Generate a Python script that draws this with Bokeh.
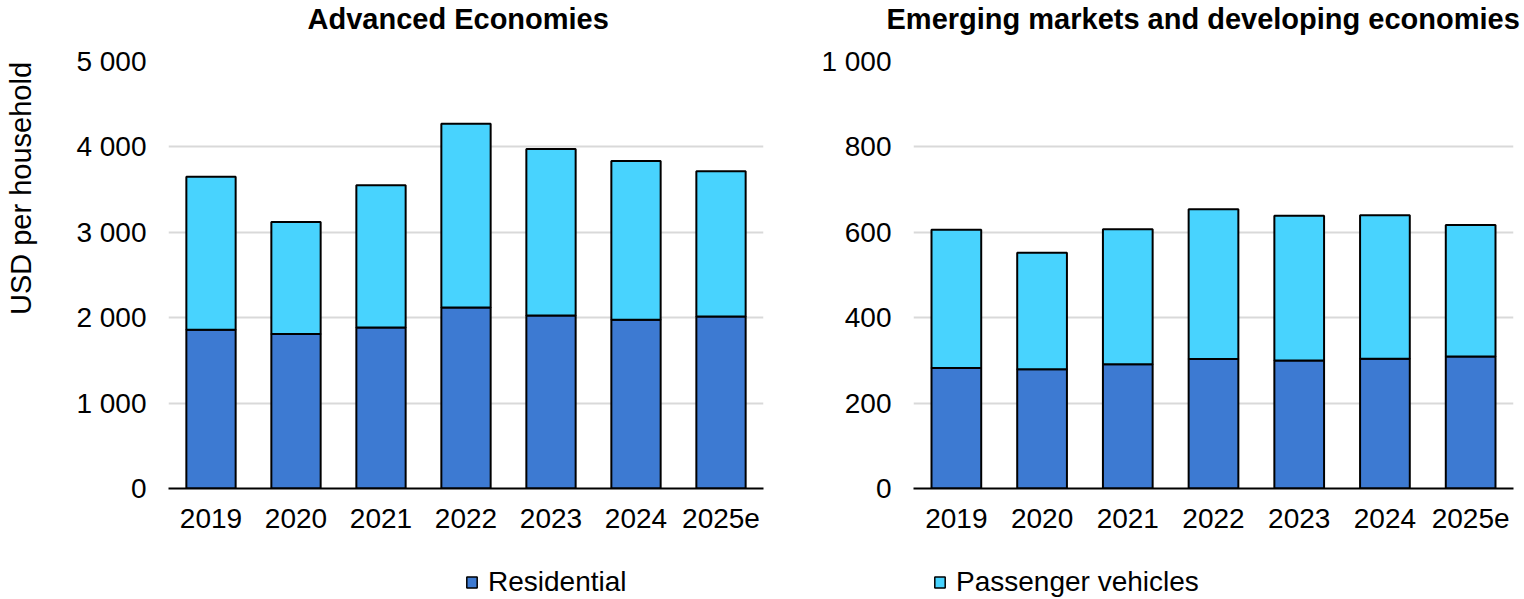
import math
from bokeh.plotting import figure
from bokeh.layouts import row, column
from bokeh.models import (ColumnDataSource, FactorRange, Range1d, FixedTicker, Legend,
                          LegendItem, Label, CustomJSTickFormatter)
from bokeh.embed import file_html
from bokeh.resources import INLINE

years = ["2019", "2020", "2021", "2022", "2023", "2024", "2025e"]
series = ["Residential", "Passenger vehicles"]
colors = ["#3D7AD2", "#48D3FE"]

adv_residential = [1860, 1810, 1885, 2120, 2025, 1975, 2015]
adv_passenger = [1790, 1310, 1665, 2150, 1950, 1860, 1700]
eme_residential = [282, 279, 291, 303, 300, 304, 309]
eme_passenger = [324, 273, 316, 351, 339, 336, 308]

adv_ticks = [0, 1000, 2000, 3000, 4000, 5000]
eme_ticks = [0, 200, 400, 600, 800, 1000]

titles = ["Advanced Economies", "Emerging markets and developing economies"]
y_label = "USD per household"

FONT = "Liberation Sans"
FS = "28px"
W, H = 1524, 599
YL_W = 40
TOP_H, LEG_H = 44, 44
MAIN_H = H - TOP_H - LEG_H

fmt = CustomJSTickFormatter(code="return tick.toString().replace(/\\B(?=(\\d{3})+(?!\\d))/g, ' ');")


def strip(width, height):
    f = figure(width=width, height=height, x_range=Range1d(0, width), y_range=Range1d(0, height),
               output_backend="svg", toolbar_location=None,
               min_border_left=0, min_border_right=0, min_border_top=0, min_border_bottom=0)
    f.axis.visible = False
    f.grid.visible = False
    f.outline_line_color = None
    f.title.visible = False
    return f


def make_panel(res, pas, ticks, width, bl, br):
    src = ColumnDataSource(dict(year=years, Residential=res, **{"Passenger vehicles": pas}))
    p = figure(x_range=FactorRange(*years, range_padding=0), y_range=Range1d(ticks[0], ticks[-1]),
               width=width, height=MAIN_H, output_backend="svg", toolbar_location=None,
               min_border_left=bl, min_border_right=br, min_border_top=17, min_border_bottom=67)
    p.vbar_stack(series, x="year", width=0.58, source=src, color=colors,
                 line_color="black", line_width=2)
    p.title.visible = False
    p.outline_line_color = None
    p.background_fill_color = "white"
    p.xgrid.visible = False
    p.ygrid.grid_line_color = "#D9D9D9"
    p.ygrid.grid_line_width = 2
    p.yaxis.ticker = FixedTicker(ticks=ticks)
    p.yaxis.formatter = fmt
    p.yaxis.axis_line_color = None
    p.yaxis.major_tick_line_color = None
    p.yaxis.minor_tick_line_color = None
    p.yaxis.major_label_standoff = 16
    p.yaxis.major_label_text_font = FONT
    p.yaxis.major_label_text_font_size = FS
    p.yaxis.major_label_text_color = "black"
    p.xaxis.axis_line_color = "black"
    p.xaxis.axis_line_width = 2
    p.xaxis.major_tick_line_color = None
    p.xaxis.minor_tick_line_color = None
    p.xaxis.major_label_standoff = 14
    p.xaxis.major_label_text_font = FONT
    p.xaxis.major_label_text_font_size = FS
    p.xaxis.major_label_text_color = "black"
    return p


left = make_panel(adv_residential, adv_passenger, adv_ticks, 730, 128, 7)
right = make_panel(eme_residential, eme_passenger, eme_ticks, 754, 143, 11)

# y-axis title strip (full height)
yl = strip(YL_W, H)
yl.add_layout(Label(x=20, y=H - 188, text=y_label, angle=math.pi / 2,
                    text_align="center", text_baseline="middle", text_font=FONT,
                    text_font_size="29px", text_color="black"))

# panel titles strip
tf = strip(W - YL_W, TOP_H)
for txt, tx in zip(titles, [307 - YL_W, 886 - YL_W]):
    tf.add_layout(Label(x=tx, y=TOP_H - 18, text=txt, text_align="left",
                        text_baseline="middle", text_font=FONT, text_font_size="29px",
                        text_font_style="bold", text_color="black"))

# legend strip (zero-size placeholder glyphs carry the legend swatches)
lf = strip(W - YL_W, LEG_H)
legend_renderers = [lf.vbar(x=[0], top=[0], bottom=[0], width=0, fill_color=c,
                            line_color="black", line_width=1.5) for c in colors]
for i, lx in enumerate([465 - YL_W, 933 - YL_W]):
    lg = Legend(items=[LegendItem(label=series[i], renderers=[legend_renderers[i]])],
                location=(lx, 1), orientation="horizontal",
                border_line_color=None, background_fill_alpha=0, padding=0, margin=0,
                label_text_font=FONT, label_text_font_size=FS, label_text_color="black",
                glyph_width=13, glyph_height=14, label_standoff=10)
    lf.add_layout(lg, "center")

layout = row(yl, column(tf, row(left, right), lf))
open("out.html", "w").write(file_html(layout, INLINE))
